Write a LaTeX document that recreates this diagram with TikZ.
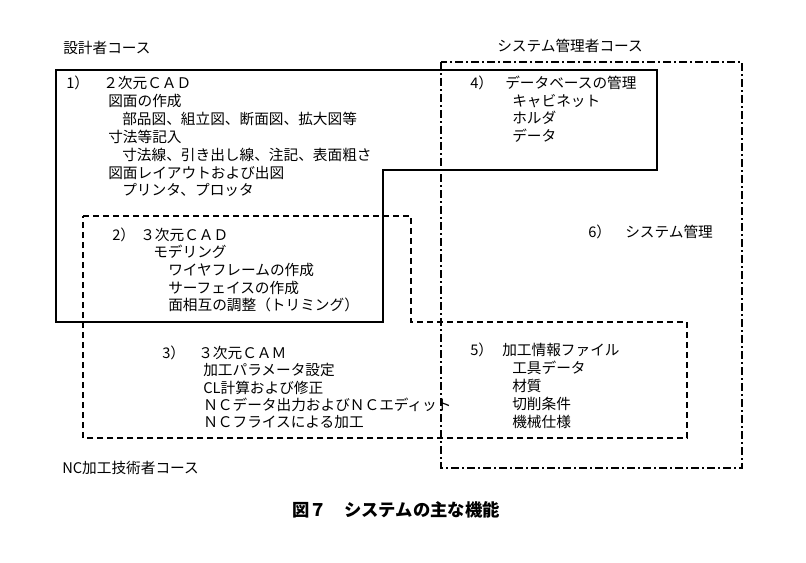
\documentclass[tikz,border=0pt]{standalone}
\usepackage{fontspec}
\newfontfamily\jpfont{Noto Sans CJK JP}
\tikzset{
	txt/.style={anchor=west, inner sep=0pt, font=\jpfont\fontsize{11}{13}\selectfont},
	course/.style={txt},
	solidbox/.style={line width=0.8pt},
	ncbox/.style={line width=0.8pt, dash pattern=on 4.5pt off 3pt},
	sysbox/.style={line width=0.8pt, dash pattern=on 6pt off 2.5pt on 1pt off 2.5pt},
}
\begin{document}
\begin{tikzpicture}[x=0.75pt, y=-0.75pt]
				\useasboundingbox (0,0) rectangle (806,563);
				
				% course areas
				\draw[solidbox] (56,70) -- (657,70) -- (657,170) -- (383,170) -- (383,322) -- (56,322) -- cycle;
				\draw[ncbox] (83,216) -- (411,216) -- (411,322) -- (687,322) -- (687,438) -- (83,438) -- cycle;
				\draw[sysbox] (441,62) rectangle (742,468);
				
				\node[course] (design) at (63,48) {設計者コース};
				\node[course] (sys) at (497,46) {システム管理者コース};
				\node[course] (nc) at (62,468) {NC加工技術者コース};
				
				% 1) 2D CAD
				\node[txt] (n1) at (66,83) {1）};
				\node[txt] (t1) at (103,83) {２次元ＣＡＤ};
				\node[txt] (a1) at (108,101) {図面の作成};
				\node[txt] (a2) at (122,119) {部品図、組立図、断面図、拡大図等};
				\node[txt] (a3) at (108,137) {寸法等記入};
				\node[txt] (a4) at (122,155) {寸法線、引き出し線、注記、表面粗さ};
				\node[txt] (a5) at (108,173) {図面レイアウトおよび出図};
				\node[txt] (a6) at (122,190) {プリンタ、プロッタ};
				
				% 2) 3D CAD
				\node[txt] (n2) at (112,235) {2）};
				\node[txt] (t2) at (140,235) {３次元ＣＡＤ};
				\node[txt] (b1) at (153,252) {モデリング};
				\node[txt] (b2) at (168,270) {ワイヤフレームの作成};
				\node[txt] (b3) at (168,288) {サーフェイスの作成};
				\node[txt] (b4) at (168,305) {面相互の調整（トリミング）};
				
				% 3) 3D CAM
				\node[txt] (n3) at (162,353) {3）};
				\node[txt] (t3) at (198,353) {３次元ＣＡＭ};
				\node[txt] (c1) at (203,370) {加工パラメータ設定};
				\node[txt] (c2) at (203,388) {CL計算および修正};
				\node[txt] (c3) at (203,405) {ＮＣデータ出力およびＮＣエディット};
				\node[txt] (c4) at (203,422) {ＮＣフライスによる加工};
				
				% 4) database
				\node[txt] (n4) at (470,83) {4）};
				\node[txt] (t4) at (505,83) {データベースの管理};
				\node[txt] (d1) at (512,101) {キャビネット};
				\node[txt] (d2) at (512,118) {ホルダ};
				\node[txt] (d3) at (512,136) {データ};
				
				% 5) machining files
				\node[txt] (n5) at (470,350) {5）};
				\node[txt] (t5) at (502,350) {加工情報ファイル};
				\node[txt] (e1) at (512,368) {工具データ};
				\node[txt] (e2) at (512,386) {材質};
				\node[txt] (e3) at (512,404) {切削条件};
				\node[txt] (e4) at (512,422) {機械仕様};
				
				% 6) system
				\node[txt] (n6) at (588,232) {6）};
				\node[txt] (t6) at (625,232) {システム管理};
				
				\node[inner sep=0pt, font=\jpfont\bfseries\fontsize{13}{15}\selectfont] (cap) at (396,510) {図７　システムの主な機能};
			\end{tikzpicture}
\end{document}
